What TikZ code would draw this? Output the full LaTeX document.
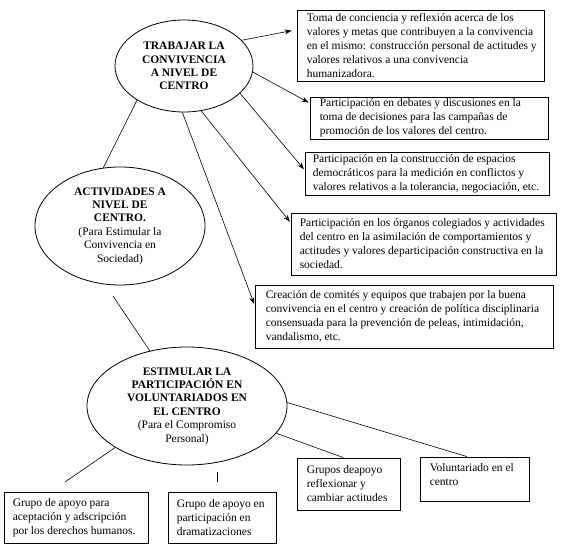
\documentclass[tikz,border=0pt]{standalone}
\usepackage{fontspec}
\setmainfont{Liberation Serif}
\usetikzlibrary{shapes.geometric,arrows.meta,calc}
\begin{document}
\begin{tikzpicture}[x=1pt,y=-1pt,
  every node/.style={font=\fontsize{11.5}{14}\selectfont},
  oval/.style={draw,ellipse,inner sep=0pt,line width=0.8pt,align=center,font=\fontsize{11.5}{13.4}\selectfont},
  frame/.style={draw,rectangle,line width=0.9pt,inner sep=0pt},
  txt/.style={align=left,inner sep=0pt,anchor=west},
  arr/.style={-{Stealth[length=7pt,width=5pt]},line width=0.6pt,shorten >=1pt},
  link/.style={line width=0.6pt}]
\useasboundingbox (0,0) rectangle (565,553);

% ellipses
\node[oval,minimum width=138pt,minimum height=92pt] (e1) at (184,66)
  {\textbf{TRABAJAR LA}\\\textbf{CONVIVENCIA}\\\textbf{A NIVEL DE}\\\textbf{CENTRO}};
\node[oval,minimum width=170pt,minimum height=118pt] (e2) at (120,226)
  {\textbf{ACTIVIDADES A}\\\textbf{NIVEL DE}\\\textbf{CENTRO.}\\(Para Estimular la\\Convivencia en\\Sociedad)};
\node[oval,minimum width=200pt,minimum height=118pt] (e3) at (187,406)
  {\textbf{ESTIMULAR LA}\\\textbf{PARTICIPACIÓN EN}\\\textbf{VOLUNTARIADOS EN}\\\textbf{EL CENTRO}\\(Para el Compromiso\\Personal)};

% right boxes
\node[frame,minimum width=247pt,minimum height=71pt] (b1) at (420.5,45.5) {};
\node[txt] (t1) at ([xshift=10pt]b1.west) {Toma de conciencia y reflexión acerca de los\\valores y metas que contribuyen a la convivencia\\en el mismo: construcción personal de actitudes y\\valores relativos a una convivencia\\humanizadora.};

\node[frame,minimum width=238pt,minimum height=42pt] (b2) at (429,118) {};
\node[txt] (t2) at ([xshift=10pt]b2.west) {Participación en debates y discusiones en la\\toma de decisiones para las campañas de\\promoción de los valores del centro.};

\node[frame,minimum width=244pt,minimum height=43pt] (b3) at (427,173.5) {};
\node[txt] (t3) at ([xshift=8pt]b3.west) {Participación en la construcción de espacios\\democráticos para la medición en conflictos y\\valores relativos a la tolerancia, negociación, etc.};

\node[frame,minimum width=265pt,minimum height=62pt] (b4) at (423.5,244) {};
\node[txt] (t4) at ([xshift=9pt]b4.west) {Participación en los órganos colegiados y actividades\\del centro en la asimilación de comportamientos y\\actitudes y valores departicipación constructiva en la\\sociedad.};

\node[frame,minimum width=298pt,minimum height=63pt] (b5) at (404,316.5) {};
\node[txt] (t5) at ([xshift=11pt]b5.west) {Creación de comités y equipos que trabajen por la buena\\convivencia en el centro y creación de política disciplinaria\\consensuada para la prevención de peleas, intimidación,\\vandalismo, etc.};

% bottom boxes
\node[frame,minimum width=144pt,minimum height=51pt] (bA) at (76,517.5) {};
\node[txt] (tA) at ([xshift=9pt]bA.west) {Grupo de apoyo para\\aceptación y adscripción\\por los derechos humanos.};

\node[frame,minimum width=108pt,minimum height=51pt] (bB) at (222,517.5) {};
\node[txt] (tB) at ([xshift=9pt]bB.west) {Grupo de apoyo en\\participación en\\dramatizaciones};

\node[frame,minimum width=103pt,minimum height=52pt] (bC) at (348.5,484) {};
\node[txt] (tC) at ([xshift=10pt]bC.west) {Grupos deapoyo\\reflexionar y\\cambiar actitudes};

\node[frame,minimum width=109pt,minimum height=44pt] (bD) at (474.5,479) {};
\node[txt,anchor=north west] (tD) at ([xshift=10pt,yshift=-7pt]bD.north west) {Voluntariado en el\\centro};

% arrows from e1
\draw[arr,shorten >=5pt] (e1.24) -- ($(b1.north west)!0.28!(b1.south west)$);
\draw[arr] (e1.-5) -- ($(b2.north west)!0.15!(b2.south west)$);
\draw[arr] (e1.-26) -- ($(b3.north west)!0.42!(b3.south west)$);
\draw[arr] (e1.-69) -- ($(b4.north west)!0.16!(b4.south west)$);
\draw[arr] (e1.-92) -- ($(b5.north west)!0.32!(b5.south west)$);

% plain links
\draw[link] (e1.-144) -- (e2.106);
\coordinate (g1) at (113,296);
\draw[link] (g1) -- (e3.124);
\coordinate (gA) at (65,482);
\draw[link] (e3.-150) -- (gA);
\coordinate (gB1) at (217,472);
\coordinate (gB2) at (217,482);
\draw[link] (gB1) -- (gB2);
\draw[link] (e3.-17.6) -- ($(bC.north west)!0.45!(bC.north east)$);
\draw[link] (e3.2) -- ($(bD.north west)!0.43!(bD.north east)$);
\end{tikzpicture}
\end{document}
